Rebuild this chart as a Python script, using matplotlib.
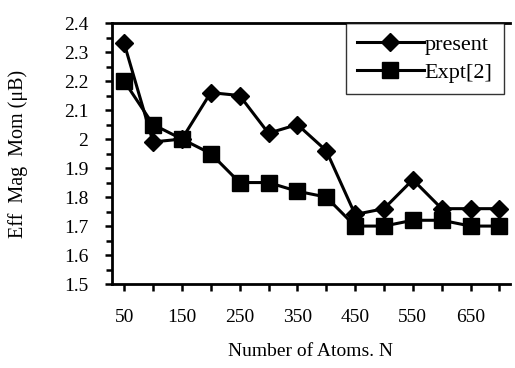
import numpy as np
import matplotlib.pyplot as plt
from matplotlib.ticker import MultipleLocator

plt.rcParams['font.family'] = ['Liberation Serif', 'DejaVu Serif']

atoms = [50, 100, 150, 200, 250, 300, 350, 400, 450, 500, 550, 600, 650, 700]
present = [2.33, 1.99, 2.00, 2.16, 2.15, 2.02, 2.05, 1.96, 1.74, 1.76, 1.86, 1.76, 1.76, 1.76]
expt = [2.20, 2.05, 2.00, 1.95, 1.85, 1.85, 1.82, 1.80, 1.70, 1.70, 1.72, 1.72, 1.70, 1.70]

x = np.arange(len(atoms))

fig = plt.figure(figsize=(5.15, 3.68), dpi=100)
ax = fig.add_axes([0.2175, 0.228, 0.772, 0.7095])

ax.plot(x, present, color='black', lw=2.2, marker='D', ms=9, label='present')
ax.plot(x, expt, color='black', lw=2.2, marker='s', ms=11, label='Expt[2]')

ax.set_xlim(-0.42, 13.35)
ax.set_ylim(1.5, 2.4)
ax.yaxis.set_minor_locator(MultipleLocator(0.05))
ax.set_yticks(np.arange(1.5, 2.41, 0.1))
ax.set_yticklabels(['1.5', '1.6', '1.7', '1.8', '1.9', '2', '2.1', '2.2', '2.3', '2.4'])
ax.set_xticks(x)
ax.set_xticklabels([str(a) if i % 2 == 0 else '' for i, a in enumerate(atoms)])

ax.spines['right'].set_visible(False)
for s in ['left', 'bottom', 'top']:
    ax.spines[s].set_linewidth(2.0)

ax.tick_params(axis='y', which='major', direction='out', length=5, width=1.8, labelsize=14, pad=12)
ax.tick_params(axis='y', which='minor', direction='out', length=4, width=1.8)
ax.tick_params(axis='x', direction='out', length=5, width=1.8, labelsize=14, pad=13)

ax.set_xlabel('Number of Atoms. N', fontsize=14, labelpad=12)
ax.set_ylabel('Eff  Mag  Mom (μB)', fontsize=14.5, labelpad=26)

leg = ax.legend(loc='upper right', bbox_to_anchor=(0.985, 1.0), fontsize=16, frameon=True,
                fancybox=False, edgecolor='black', handlelength=3.0, borderaxespad=0.0,
                handletextpad=0.05, labelspacing=0.35, borderpad=0.5)
leg.get_frame().set_linewidth(1.0)

fig.savefig('out.png', dpi=100)
